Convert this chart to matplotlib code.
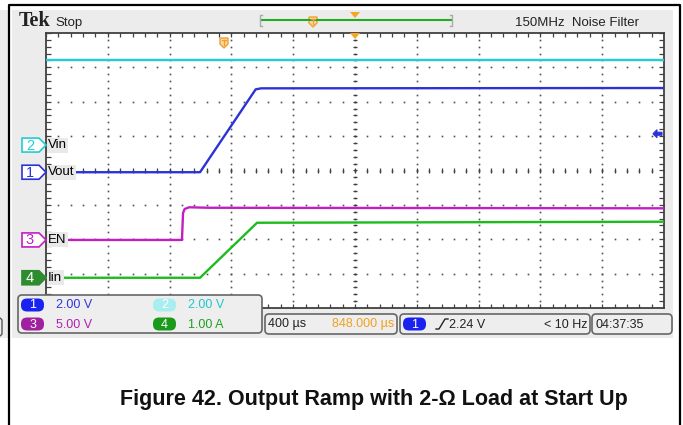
import numpy as np
import matplotlib.pyplot as plt
from matplotlib import font_manager
from matplotlib.patches import Rectangle, FancyBboxPatch, Polygon

# Scope settings
t_div = 400          # us per division
h_delay = 848        # us, screen centre relative to trigger
trig_level = 2.24    # V on channel 1
trig_freq = '< 10 Hz'
clock = '04:37:35'

# Channels: 1 Vout, 2 Vin, 3 EN, 4 Iin
ch_num = [1, 2, 3, 4]
names = ['Vout', 'Vin', 'EN', 'Iin']
scales = [2.0, 2.0, 5.0, 1.0]            # units per division
units = ['V', 'V', 'V', 'A']
offsets = [-0.05, 0.74, -2.02, -3.12]    # ground marker, divisions
colors = ['#2b33d6', '#22cdd0', '#c21fc2', '#1cbc1c']

# Captured traces, time in us relative to trigger
t_vout = [-1152, -155, 205, 240, 2848]
v_vout = [0.0, 0.0, 4.82, 4.88, 4.9]
t_vin = [-1152, 2848]
v_vin = [4.94, 4.94]
t_en = [-1152, -272, -265, -255, -225, -100, 2848]
v_en = [0.0, 0.0, 3.9, 4.5, 4.75, 4.68, 4.6]
t_iin = [-1152, -155, 214, 2848]
v_iin = [0.0, 0.0, 1.6, 1.63]
traces = [(t_vout, v_vout), (t_vin, v_vin), (t_en, v_en), (t_iin, v_iin)]

avail = {f.name for f in font_manager.fontManager.ttflist}
narrow = 'Liberation Sans Narrow' if 'Liberation Sans Narrow' in avail else 'Liberation Sans'
fs = 9.5 if narrow == 'Liberation Sans Narrow' else 9

W, H = 683, 425
fig = plt.figure(figsize=(6.83, 4.25), dpi=100)

bg = fig.add_axes([0, 0, 1, 1], zorder=0)
bg.set_xlim(0, W)
bg.set_ylim(H, 0)
bg.axis('off')
bg.add_patch(Rectangle((12, 10), 661, 328, facecolor='#ececec', edgecolor='none'))
bg.add_patch(Rectangle((0, 10), 8, 328, facecolor='#ececec', edgecolor='none'))
bg.add_patch(FancyBboxPatch((-12, 318), 14, 18, boxstyle='round,pad=0,rounding_size=3',
                            facecolor='#eeeeee', edgecolor='#555555', lw=1.0))
bg.plot([9, 9, 680, 680], [H, 5, 5, H], color='black', lw=1.6)

# graticule
ax = fig.add_axes([46 / W, 1 - 308 / H, (664 - 46) / W, (308 - 33) / H], zorder=1)
ax.set_xlim(0, 10)
ax.set_ylim(-4, 4)
ax.set_facecolor('white')
ax.set_xticks([])
ax.set_yticks([])
for s in ax.spines.values():
    s.set_color('#404040')
    s.set_linewidth(1.3)

minor_x = np.arange(0, 10.01, 0.2)
minor_y = np.arange(-4, 4.01, 0.2)
for gx in range(1, 10):
    ax.plot(np.full_like(minor_y, gx), minor_y, ls='none', marker='s', ms=1.2,
            mew=0, color='#505050')
for gy in range(-3, 4):
    ax.plot(minor_x, np.full_like(minor_x, gy), ls='none', marker='s', ms=1.2,
            mew=0, color='#505050')
tk = dict(color='#404040', lw=0.9)
ax.vlines(minor_x, -0.06, 0.06, **tk)
ax.hlines(minor_y, 4.96, 5.04, **tk)
ax.vlines(minor_x, 4 - 0.12, 4, **tk)
ax.vlines(minor_x, -4, -4 + 0.12, **tk)
ax.hlines(minor_y, 0, 0.08, **tk)
ax.hlines(minor_y, 10 - 0.08, 10, **tk)


def screen_x(t):
    return (np.asarray(t, dtype=float) - h_delay) / t_div + 5


def screen_y(v, ch):
    return np.asarray(v, dtype=float) / scales[ch] + offsets[ch]


for ch in [1, 0, 2, 3]:
    t, v = traces[ch]
    ax.plot(screen_x(t), screen_y(v, ch), color=colors[ch], lw=1.7, zorder=5)

# overlay for markers and readouts
ov = fig.add_axes([0, 0, 1, 1], zorder=3)
ov.set_xlim(0, W)
ov.set_ylim(H, 0)
ov.axis('off')


def to_px(x, y):
    return ov.transData.inverted().transform(ax.transData.transform((x, y)))


# channel ground markers with labels
for ch in range(4):
    y = to_px(0, offsets[ch])[1]
    filled = ch == 3
    face = '#2e8b2e' if filled else 'white'
    edge = '#2e8b2e' if filled else colors[ch]
    ov.add_patch(Polygon([(22, y - 7), (39, y - 7), (46, y), (39, y + 7), (22, y + 7)],
                         closed=True, facecolor=face, edgecolor=edge, lw=1.2))
    ov.text(30, y + 0.5, str(ch_num[ch]), ha='center', va='center', family=narrow,
            fontsize=10.5, color='white' if filled else colors[ch])
    ov.text(48, y, names[ch], ha='left', va='center', family=narrow, fontsize=9.5,
            color='black', bbox=dict(facecolor='#e9e9e9', edgecolor='none', pad=1.0))

# trigger level arrow on right edge
ty = to_px(10, trig_level / scales[0] + offsets[0])[1]
ov.add_patch(Polygon([(653, ty), (657, ty - 4), (657, ty - 1.5), (662, ty - 1.5),
                      (662, ty + 1.5), (657, ty + 1.5), (657, ty + 4)],
                     closed=True, facecolor=colors[0], edgecolor=colors[0], lw=0.8))


def trig_marker(x, y):
    ov.add_patch(Polygon([(x - 4, y - 5), (x + 4, y - 5), (x + 4, y + 1), (x, y + 5), (x - 4, y + 1)],
                         closed=True, facecolor='#fbd7a8', edgecolor='#f0a030', lw=1.0))
    ov.plot([x - 2, x + 2, x, x], [y - 3, y - 3, y - 3, y + 2], color='#f0a030', lw=0.9)


# trigger position marker and view centre
tx = to_px(5 - h_delay / t_div, 4)[0]
cx = to_px(5, 4)[0]
trig_marker(tx, 43)
ov.add_patch(Polygon([(cx - 5, 33), (cx + 5, 33), (cx, 39)], closed=True,
                     facecolor='#f5a623', edgecolor='none'))

# header
ov.text(19, 26, 'Tek', family='Liberation Serif', fontweight='bold', fontsize=14.5,
        va='baseline', color='#222222')
ov.text(55, 26, 'Stop', family=narrow, fontsize=9.5, va='baseline', color='#222222')
ov.text(515, 26, '150MHz  Noise Filter', family=narrow, fontsize=9.5, va='baseline',
        color='#222222')
ov.plot([262, 451], [20, 20], color='#22aa22', lw=1.5)
ov.plot([262, 260, 260, 262], [15, 15, 26, 26], color='#aaaaaa', lw=1.0)
ov.plot([450, 452, 452, 450], [15, 15, 26, 26], color='#aaaaaa', lw=1.0)
trig_marker(313, 22)
ov.add_patch(Polygon([(cx - 5, 12), (cx + 5, 12), (cx, 18)], closed=True,
                     facecolor='#f5a623', edgecolor='none'))


def box(x0, y0, x1, y1):
    ov.add_patch(FancyBboxPatch((x0, y0), x1 - x0, y1 - y0,
                                boxstyle='round,pad=0,rounding_size=4',
                                facecolor='#eeeeee', edgecolor='#666666', lw=1.2))


def badge(x, y, num, face):
    ov.add_patch(FancyBboxPatch((x, y - 6.5), 23, 13, boxstyle='round,pad=0,rounding_size=6',
                                facecolor=face, edgecolor='none'))
    ov.text(x + 11.5, y + 0.5, str(num), ha='center', va='center', family=narrow,
            fontsize=fs, color='white')


# readouts
box(18, 295, 262, 333)
badge_face = ['#1a22f0', '#a8eeee', '#a020a0', '#1a9a1a']
text_col = ['#3333dd', '#20c8c8', '#b020b0', '#20a020']
slots = [(21, 305), (153, 305), (21, 324), (153, 324)]
for ch in range(4):
    bx, by = slots[ch]
    badge(bx, by, ch_num[ch], badge_face[ch])
    ov.text(bx + 35, by + 0.5, f'{scales[ch]:.2f} {units[ch]}', ha='left', va='center',
            family=narrow, fontsize=fs, color=text_col[ch])

box(265, 314, 397, 334)
ov.text(268, 324.5, f'{t_div} µs', ha='left', va='center', family=narrow, fontsize=fs,
        color='#222222')
ov.text(394, 324.5, f'{h_delay:.3f} µs', ha='right', va='center', family=narrow,
        fontsize=fs, color='#f0a020')

box(400, 314, 590, 334)
badge(403, 324, ch_num[0], badge_face[0])
ov.plot([436, 439, 445, 448], [329, 329, 319, 319], color='#222222', lw=1.0)
ov.text(449, 324.5, f'{trig_level:.2f} V', ha='left', va='center', family=narrow,
        fontsize=fs, color='#222222')
ov.text(588, 324.5, trig_freq, ha='right', va='center', family=narrow, fontsize=fs,
        color='#222222')

box(592, 314, 672, 334)
ov.text(595, 324.5, clock, ha='left', va='center', family=narrow, fontsize=fs,
        color='#222222')

# caption
ov.text(374, 400, 'Figure 42. Output Ramp with 2-Ω Load at Start Up', ha='center',
        va='center', family='Liberation Sans', fontweight='bold', fontsize=15.5,
        color='#111111')

fig.savefig('out.png', dpi=100)
